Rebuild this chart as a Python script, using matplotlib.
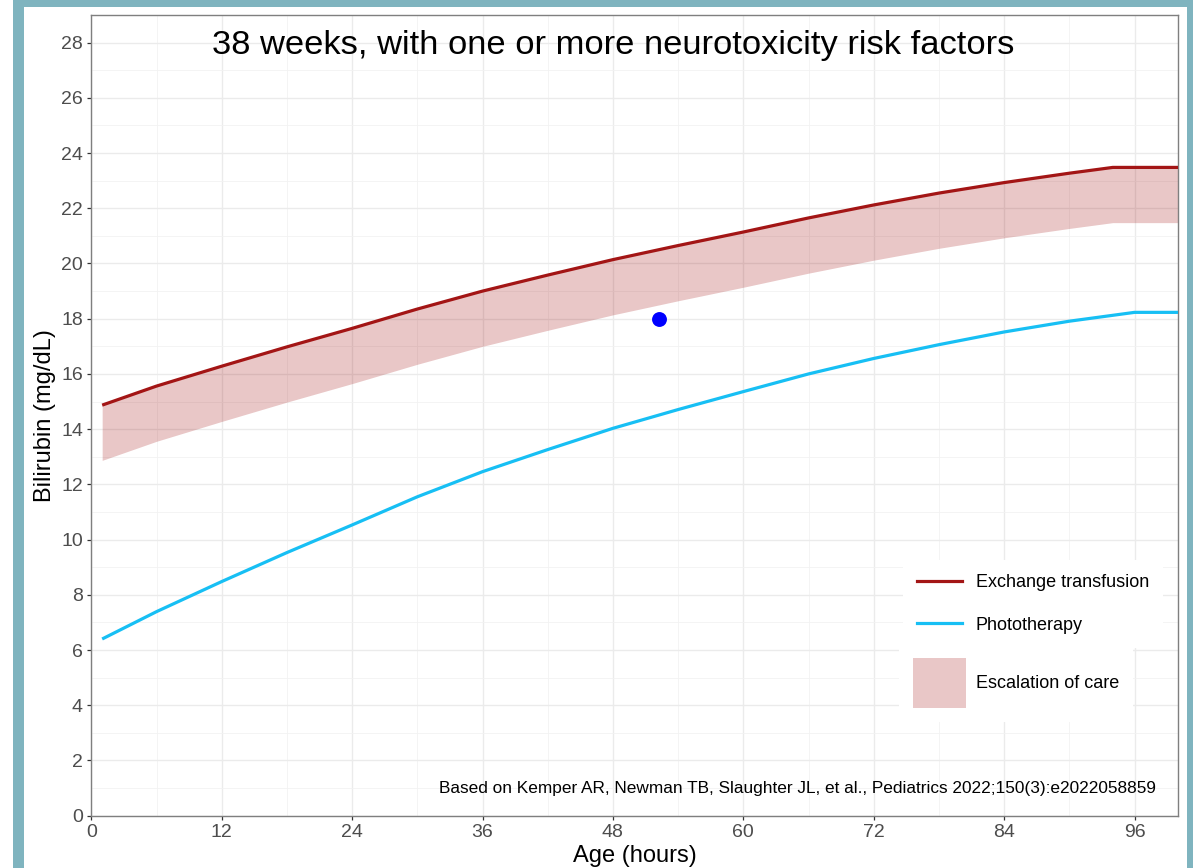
import matplotlib
matplotlib.use("Agg")
import matplotlib.pyplot as plt
from matplotlib.lines import Line2D
from matplotlib.patches import Patch, Rectangle
from matplotlib.ticker import MultipleLocator

plt.rcParams['font.family'] = ['Liberation Sans', 'DejaVu Sans']

# exchange transfusion threshold (mg/dL) by age in hours
exch_hours = [1, 6, 12, 18, 24, 30, 36, 42, 48, 54, 60, 66, 72, 78, 84, 90, 94, 100]
exch_level = [14.87, 15.56, 16.28, 16.98, 17.65, 18.35, 19.0, 19.58, 20.14, 20.65,
              21.14, 21.65, 22.12, 22.55, 22.93, 23.27, 23.48, 23.48]
# escalation of care starts 2 mg/dL below exchange level
escal_level = [v - 2 for v in exch_level]

# phototherapy threshold
photo_hours = [1, 6, 12, 18, 24, 30, 36, 42, 48, 54, 60, 66, 72, 78, 84, 90, 96, 100]
photo_level = [6.40, 7.39, 8.48, 9.53, 10.53, 11.55, 12.46, 13.26, 14.03, 14.71,
               15.36, 16.0, 16.56, 17.06, 17.52, 17.91, 18.23, 18.23]

# patient measurement
pt_hours = [52.2]
pt_bili = [18]

title = "38 weeks, with one or more neurotoxicity risk factors"
source = "Based on Kemper AR, Newman TB, Slaughter JL, et al., Pediatrics 2022;150(3):e2022058859"

RED = '#a31515'
BLUE = '#17bff4'
TEAL = '#7fb4bf'
W, H = 1193, 868

fig = plt.figure(figsize=(W / 100, H / 100), dpi=100)
fig.patch.set_facecolor('white')
# teal frame
fig.patches.append(Rectangle((13 / W, 0), (W - 13) / W, 1, transform=fig.transFigure,
                             facecolor=TEAL, edgecolor='none', zorder=-10))
fig.patches.append(Rectangle((24.3 / W, 0), (1187 - 24.3) / W, (H - 6.7) / H,
                             transform=fig.transFigure, facecolor='white',
                             edgecolor='none', zorder=-9))

ax = fig.add_axes([91.3 / W, 1 - 815.7 / H, (1178 - 91.3) / W, (815.7 - 15) / H])

ax.fill_between(exch_hours, escal_level, exch_level, color=RED, alpha=0.24,
                linewidth=0, zorder=2)
ax.plot(exch_hours, exch_level, color=RED, lw=2.3, zorder=3, solid_capstyle='butt')
ax.plot(photo_hours, photo_level, color=BLUE, lw=2.3, zorder=3, solid_capstyle='butt')
ax.scatter(pt_hours, pt_bili, s=115, color='#0000ff', zorder=4, linewidths=0)

ax.set_xlim(0, 100)
ax.set_ylim(0, 29)
ax.xaxis.set_major_locator(MultipleLocator(12))
ax.xaxis.set_minor_locator(MultipleLocator(6))
ax.yaxis.set_major_locator(MultipleLocator(2))
ax.yaxis.set_minor_locator(MultipleLocator(1))
ax.set_xticks([0, 12, 24, 36, 48, 60, 72, 84, 96])
ax.grid(which='major', color='#ebebeb', lw=1.0, zorder=0)
ax.grid(which='minor', color='#f2f2f2', lw=0.6, zorder=0)
ax.set_axisbelow(True)
ax.tick_params(which='major', length=3, width=0.9, color='#333333',
               labelsize=14, labelcolor='#4d4d4d', pad=3)
ax.tick_params(which='minor', length=0)
for sp in ax.spines.values():
    sp.set_color('#7f7f7f')
    sp.set_linewidth(1.0)

ax.set_xlabel('Age (hours)', fontsize=17, color='black')
ax.set_ylabel('Bilirubin (mg/dL)', fontsize=17, color='black')
ax.xaxis.set_label_coords(0.5, -0.0503)
ax.xaxis.label.set_verticalalignment('center')
ax.yaxis.set_label_coords(-0.0426, 0.5)
ax.yaxis.label.set_verticalalignment('center')

ax.text(48, 27.88, title, ha='center', va='center', fontsize=24.8, color='black')
ax.text(98, 1, source, ha='right', va='center', fontsize=12.4, color='black')


def px_to_axes(x, y):
    # figure pixel (from top-left) -> axes fraction
    return ((x - 91.3) / (1178 - 91.3), (815.7 - y) / (815.7 - 15))


line_handles = [Line2D([], [], color=RED, lw=2.3), Line2D([], [], color=BLUE, lw=2.3)]
leg1 = ax.legend(line_handles, ['Exchange transfusion', 'Phototherapy'],
                 loc='upper left', bbox_to_anchor=px_to_axes(903, 560),
                 borderaxespad=0, fontsize=13, frameon=True, fancybox=False,
                 edgecolor='none', facecolor='white', framealpha=1,
                 handlelength=2.44, handletextpad=0.78, labelspacing=1.39,
                 borderpad=0.8)
ax.add_artist(leg1)
leg2 = ax.legend([Patch(facecolor=RED, alpha=0.24, edgecolor='none')],
                 ['Escalation of care'],
                 loc='upper left', bbox_to_anchor=px_to_axes(899, 644),
                 borderaxespad=0, fontsize=13, frameon=True, fancybox=False,
                 edgecolor='none', facecolor='white', framealpha=1,
                 handlelength=2.89, handleheight=3.85, handletextpad=0.56,
                 borderpad=0.8)

fig.savefig('out.png', dpi=100)
